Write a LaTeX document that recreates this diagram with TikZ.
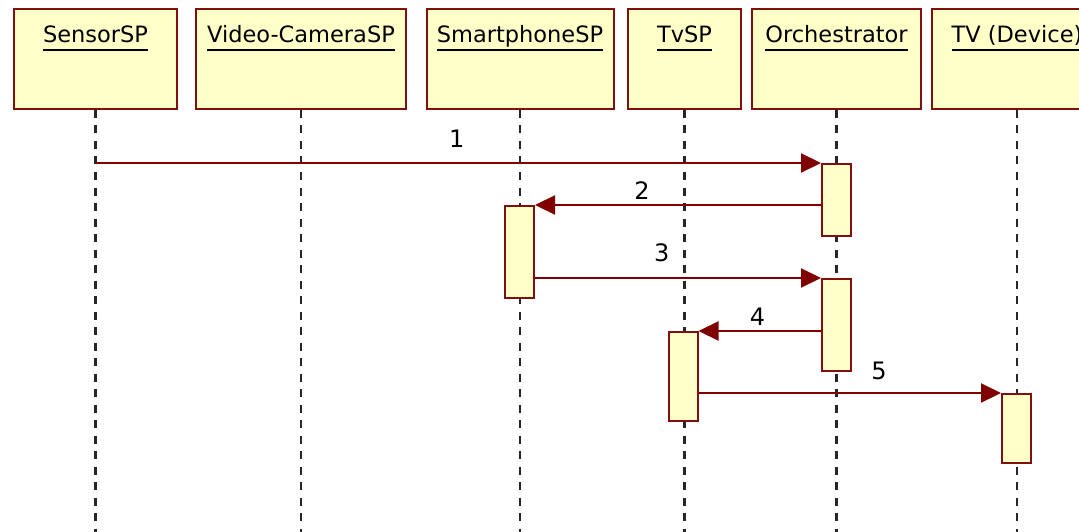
\documentclass[tikz,border=0pt]{standalone}
\usepackage{fontspec}
\setmainfont{DejaVu Sans}
\usepackage{xcolor}
\usepackage{tikz}
\usetikzlibrary{arrows.meta, positioning, calc}

\definecolor{boxfill}{RGB}{255,255,200}
\definecolor{boxedge}{RGB}{128,16,16}
\definecolor{msgred}{RGB}{128,0,0}
\newcommand\lifename[1]{\setbox0\hbox{#1}\rlap{\rule[-8pt]{\wd0}{2pt}}\box0}

\begin{document}
\begin{tikzpicture}[
    x=1pt, y=-1pt,
    header/.style={rectangle, draw=boxedge, fill=boxfill, line width=2pt, inner sep=0pt,
        text height=34pt, text depth=66pt, font=\fontsize{22.5}{26}\selectfont},
    act/.style={rectangle, draw=boxedge, fill=boxfill, line width=2pt, inner sep=0pt,
        minimum width=29pt, anchor=north},
    life/.style={line width=2.4pt, black!85, dash pattern=on 8pt off 7.5pt},
    msg/.style={-{Triangle[length=20pt, width=19pt]}, line width=2.2pt, msgred},
    num/.style={inner sep=0pt, text=black, font=\fontsize{24}{28}\selectfont}
]
    \clip (0,0) rectangle (1079,532);
    \coordinate (bottom) at (0,532);

    % Participants
    \node[header, minimum width=163pt] (sensor) at (95.5,59) {\lifename{SensorSP}};
    \node[header, minimum width=210pt] (video) at (301,59) {\lifename{Video-CameraSP}};
    \node[header, minimum width=187pt] (phone) at (520,59) {\lifename{SmartphoneSP}};
    \node[header, minimum width=113pt] (tvsp) at (684.5,59) {\lifename{TvSP}};
    \node[header, minimum width=169pt] (orch) at (836.5,59) {\lifename{Orchestrator}};
    \node[header, minimum width=170pt] (tv) at (1017,59) {\lifename{TV (Device)}};

    % Lifelines
    \foreach \p in {sensor, video, phone, tvsp, orch, tv}
        \draw[life] (\p.south) -- (\p.south |- bottom);

    % Activations
    \node[act, minimum height=72pt] (orchA) at (836.5,163) {};
    \node[act, minimum height=92pt] (phoneA) at (519.5,205) {};
    \node[act, minimum height=92pt] (orchB) at (836.5,278) {};
    \node[act, minimum height=89pt] (tvspA) at (683,331) {};
    \node[act, minimum height=69pt] (tvA) at (1016.5,393) {};

    % Messages
    \draw[msg] (sensor.south |- orchA.north) -- node[num, pos=0.498, above=14pt] (m1) {1} (orchA.north west);
    \draw[msg] (orchA.west |- phoneA.north) -- node[num, pos=0.626, above=4pt] (m2) {2} (phoneA.north east);
    \draw[msg] (phoneA.east |- orchB.north) -- node[num, pos=0.443, above=15pt] (m3) {3} (orchB.north west);
    \draw[msg] (orchB.west |- tvspA.north) -- node[num, pos=0.518, above=4pt] (m4) {4} (tvspA.north east);
    \draw[msg] (tvspA.east |- tvA.north) -- node[num, pos=0.597, above=12pt] (m5) {5} (tvA.north west);
\end{tikzpicture}
\end{document}
